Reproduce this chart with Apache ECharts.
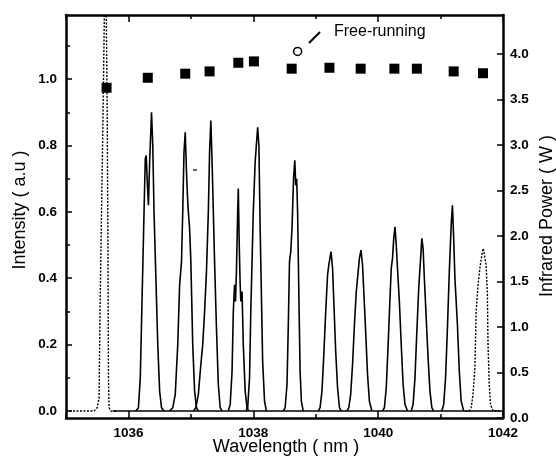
<!DOCTYPE html>
<html><head><meta charset="utf-8">
<script src="https://cdn.jsdelivr.net/npm/echarts@6/dist/echarts.min.js"></script>
<style>html,body{margin:0;padding:0;background:#fff}#c{width:556px;height:458px}</style>
</head><body><div id="c"></div>
<script>
// ---- tick values ----
const xMajorTicks = [1036, 1038, 1040, 1042];
const xMinorTicks = [1035, 1037, 1039, 1041];
const intensityTicks = [0, 0.2, 0.4, 0.6, 0.8, 1.0];
const intensityMinorTicks = [0.1, 0.3, 0.5, 0.7, 0.9, 1.1];
const powerTicks = [0, 0.5, 1, 1.5, 2, 2.5, 3, 3.5, 4];

// ---- locked spectra (wavelength nm, intensity a.u.) ----
const peak1 = [[1036.12,0],[1036.16,0.01],[1036.19,0.1],[1036.22,0.35],[1036.25,0.6],[1036.27,0.76],[1036.285,0.77],[1036.30,0.70],[1036.32,0.62],[1036.34,0.75],[1036.37,0.90],[1036.39,0.80],[1036.41,0.6],[1036.44,0.4],[1036.47,0.2],[1036.50,0.06],[1036.53,0.01],[1036.57,0]];
const peak2 = [[1036.66,0],[1036.71,0.01],[1036.75,0.05],[1036.79,0.2],[1036.82,0.38],[1036.85,0.45],[1036.87,0.6],[1036.89,0.78],[1036.91,0.84],[1036.93,0.72],[1036.95,0.63],[1036.96,0.6],[1036.98,0.55],[1037.0,0.45],[1037.03,0.2],[1037.06,0.06],[1037.09,0.01],[1037.12,0]];
const peak3 = [[1037.04,0],[1037.08,0.01],[1037.12,0.05],[1037.16,0.14],[1037.19,0.2],[1037.22,0.3],[1037.25,0.42],[1037.28,0.6],[1037.30,0.78],[1037.32,0.875],[1037.34,0.75],[1037.36,0.6],[1037.38,0.45],[1037.41,0.25],[1037.44,0.08],[1037.47,0.01],[1037.50,0]];
const peak4 = [[1037.60,0],[1037.63,0.02],[1037.66,0.12],[1037.68,0.3],[1037.70,0.38],[1037.715,0.33],[1037.73,0.42],[1037.75,0.6],[1037.76,0.67],[1037.775,0.5],[1037.79,0.38],[1037.80,0.33],[1037.82,0.36],[1037.84,0.2],[1037.87,0.06],[1037.90,0.01],[1037.93,0]];
const peak5 = [[1037.88,0],[1037.91,0.01],[1037.94,0.1],[1037.96,0.3],[1037.98,0.45],[1038.0,0.6],[1038.03,0.75],[1038.07,0.855],[1038.09,0.8],[1038.11,0.55],[1038.13,0.35],[1038.15,0.15],[1038.18,0.03],[1038.21,0]];
const peak6 = [[1038.48,0],[1038.51,0.01],[1038.54,0.08],[1038.56,0.25],[1038.58,0.45],[1038.60,0.48],[1038.62,0.55],[1038.645,0.7],[1038.665,0.755],[1038.68,0.68],[1038.695,0.7],[1038.71,0.6],[1038.73,0.35],[1038.75,0.12],[1038.77,0.03],[1038.80,0]];
const peak7 = [[1039.04,0],[1039.07,0.01],[1039.10,0.06],[1039.13,0.17],[1039.16,0.3],[1039.19,0.41],[1039.21,0.44],[1039.245,0.48],[1039.27,0.43],[1039.29,0.33],[1039.32,0.18],[1039.35,0.07],[1039.38,0.01],[1039.41,0]];
const peak8 = [[1039.50,0],[1039.53,0.01],[1039.56,0.05],[1039.59,0.14],[1039.62,0.26],[1039.65,0.36],[1039.68,0.42],[1039.70,0.46],[1039.725,0.485],[1039.75,0.44],[1039.77,0.36],[1039.80,0.24],[1039.83,0.11],[1039.86,0.03],[1039.90,0]];
const peak9 = [[1040.07,0],[1040.10,0.01],[1040.13,0.07],[1040.16,0.2],[1040.19,0.34],[1040.21,0.43],[1040.23,0.46],[1040.25,0.52],[1040.27,0.555],[1040.29,0.5],[1040.31,0.43],[1040.34,0.33],[1040.37,0.2],[1040.40,0.08],[1040.43,0.02],[1040.47,0]];
const peak10 = [[1040.53,0],[1040.56,0.02],[1040.59,0.1],[1040.62,0.24],[1040.65,0.37],[1040.68,0.46],[1040.70,0.52],[1040.72,0.49],[1040.74,0.4],[1040.77,0.28],[1040.80,0.16],[1040.83,0.06],[1040.86,0.01],[1040.89,0]];
const peak11 = [[1041.02,0],[1041.05,0.02],[1041.08,0.1],[1041.11,0.25],[1041.14,0.42],[1041.17,0.56],[1041.19,0.62],[1041.21,0.52],[1041.23,0.4],[1041.25,0.33],[1041.27,0.26],[1041.30,0.12],[1041.33,0.03],[1041.37,0]];
const baselineSolid = [[1035.75,0],[1042,0]];

// ---- free-running spectra (dotted) ----
const freePeakLeft = [[1035.0,0],[1035.45,0],[1035.50,0.01],[1035.53,0.04],[1035.545,0.3],[1035.565,0.55],[1035.59,0.85],[1035.615,1.2],[1035.63,1.5],[1035.645,1.2],[1035.66,0.9],[1035.672,0.5],[1035.68,0.1],[1035.69,0.01],[1035.72,0],[1035.8,0]];
const freePeakRight = [[1041.40,0],[1041.46,0],[1041.49,0.01],[1041.52,0.05],[1041.55,0.13],[1041.57,0.3],[1041.60,0.38],[1041.63,0.43],[1041.66,0.47],[1041.685,0.49],[1041.71,0.46],[1041.73,0.44],[1041.75,0.35],[1041.76,0.2],[1041.78,0.08],[1041.80,0.02],[1041.84,0],[1041.95,0]];

// ---- infrared power (W) ----
const powerWavelength = [1035.65, 1036.31, 1036.91, 1037.30, 1037.76, 1038.01, 1038.615, 1039.22, 1039.72, 1040.26, 1040.62, 1041.21, 1041.68];
const powerW = [3.63, 3.74, 3.785, 3.81, 3.905, 3.92, 3.84, 3.85, 3.84, 3.84, 3.84, 3.81, 3.79];
const freeRunWavelength = [1038.71];
const freeRunPowerW = [4.03];

const lockedPeaks = [peak1, peak2, peak3, peak4, peak5, peak6, peak7, peak8, peak9, peak10, peak11];

const FONT = '"Liberation Sans", Arial, Helvetica, sans-serif';
const chart = echarts.init(document.getElementById('c'), null, {renderer: 'canvas'});

const X_MIN = 1035, X_MAX = 1042;
const L_MIN = -0.021, L_MAX = 1.193;
const R_MIN = 0, R_MAX = 4.43;

const tickLabel = {color: '#000', fontSize: 13.5, fontWeight: 'bold', fontFamily: FONT};

function xAx(pos, ticks, len, line, labels) {
  return {
    type: 'value', position: pos, min: X_MIN, max: X_MAX,
    axisLine: {show: line, onZero: false, lineStyle: {color: '#000', width: 2.5}},
    axisTick: {show: true, inside: true, length: len, customValues: ticks, lineStyle: {color: '#000', width: 1.5}},
    axisLabel: labels ? Object.assign({customValues: ticks, margin: 8, formatter: v => String(v)}, tickLabel) : {show: false},
    splitLine: {show: false}
  };
}

const series = [];
lockedPeaks.forEach(p => series.push({
  type: 'line', data: p, xAxisIndex: 0, yAxisIndex: 0, showSymbol: false, symbol: 'none',
  lineStyle: {color: '#000', width: 1.6}, silent: true, z: 2
}));
series.push({type: 'line', data: baselineSolid, xAxisIndex: 0, yAxisIndex: 0, symbol: 'none',
  lineStyle: {color: '#000', width: 1.4}, silent: true, z: 2});
[freePeakLeft, freePeakRight].forEach(p => series.push({
  type: 'line', data: p, xAxisIndex: 0, yAxisIndex: 0, symbol: 'none',
  lineStyle: {color: '#000', width: 1.4, type: [2, 1.5]}, silent: true, z: 2
}));
series.push({
  type: 'scatter', xAxisIndex: 0, yAxisIndex: 1, symbol: 'rect', symbolSize: 10,
  data: powerWavelength.map((x, i) => [x, powerW[i]]),
  itemStyle: {color: '#000', opacity: 1}, z: 5, silent: true
});
series.push({
  type: 'scatter', xAxisIndex: 0, yAxisIndex: 1, symbol: 'circle', symbolSize: 8,
  data: freeRunWavelength.map((x, i) => [x, freeRunPowerW[i]]),
  itemStyle: {color: '#fff', borderColor: '#000', borderWidth: 1.5, opacity: 1}, z: 5, silent: true
});

chart.setOption({
  animation: false,
  backgroundColor: '#fff',
  grid: {left: 66, right: 53, top: 15, bottom: 40, containLabel: false, outerBoundsMode: 'none'},
  xAxis: [
    xAx('bottom', xMajorTicks, 7, true, true),
    xAx('bottom', xMinorTicks, 4, false, false),
    xAx('top', xMajorTicks, 7, true, false),
    xAx('top', xMinorTicks, 4, false, false)
  ],
  yAxis: [
    {
      type: 'value', position: 'left', min: L_MIN, max: L_MAX,
      axisLine: {show: true, onZero: false, lineStyle: {color: '#000', width: 2.5}},
      axisTick: {show: true, inside: true, length: 6, customValues: intensityTicks, lineStyle: {color: '#000', width: 1.5}},
      axisLabel: Object.assign({customValues: intensityTicks, margin: 9, formatter: v => v.toFixed(1)}, tickLabel),
      splitLine: {show: false}
    },
    {
      type: 'value', position: 'right', min: R_MIN, max: R_MAX,
      axisLine: {show: true, onZero: false, lineStyle: {color: '#000', width: 2.5}},
      axisTick: {show: true, inside: true, length: 6, customValues: powerTicks, lineStyle: {color: '#000', width: 1.5}},
      axisLabel: Object.assign({customValues: powerTicks, margin: 7, formatter: v => v.toFixed(1)}, tickLabel),
      splitLine: {show: false}
    },
    {
      type: 'value', position: 'left', min: L_MIN, max: L_MAX,
      axisLine: {show: false},
      axisTick: {show: true, inside: true, length: 4, customValues: intensityMinorTicks, lineStyle: {color: '#000', width: 1.5}},
      axisLabel: {show: false},
      splitLine: {show: false}
    }
  ],
  series: series,
  graphic: [
    {type: 'text', x: 20, y: 210, rotation: Math.PI / 2,
      style: {text: 'Intensity ( a.u )', font: '18px ' + FONT, fill: '#000', align: 'center', verticalAlign: 'middle'}},
    {type: 'text', x: 547, y: 216, rotation: Math.PI / 2,
      style: {text: 'Infrared Power ( W )', font: '18px ' + FONT, fill: '#000', align: 'center', verticalAlign: 'middle'}},
    {type: 'text', x: 286, y: 447,
      style: {text: 'Wavelength ( nm )', font: '18px ' + FONT, fill: '#000', align: 'center', verticalAlign: 'middle'}},
    {type: 'text', x: 334, y: 32,
      style: {text: 'Free-running', font: '16px ' + FONT, fill: '#000', align: 'left', verticalAlign: 'middle'}},
    {type: 'line', shape: {x1: 309, y1: 43, x2: 320, y2: 32}, style: {stroke: '#000', lineWidth: 2}},
    {type: 'line', shape: {x1: 193, y1: 170, x2: 197, y2: 170}, style: {stroke: '#000', lineWidth: 1.2}}
  ]
});
</script></body></html>
